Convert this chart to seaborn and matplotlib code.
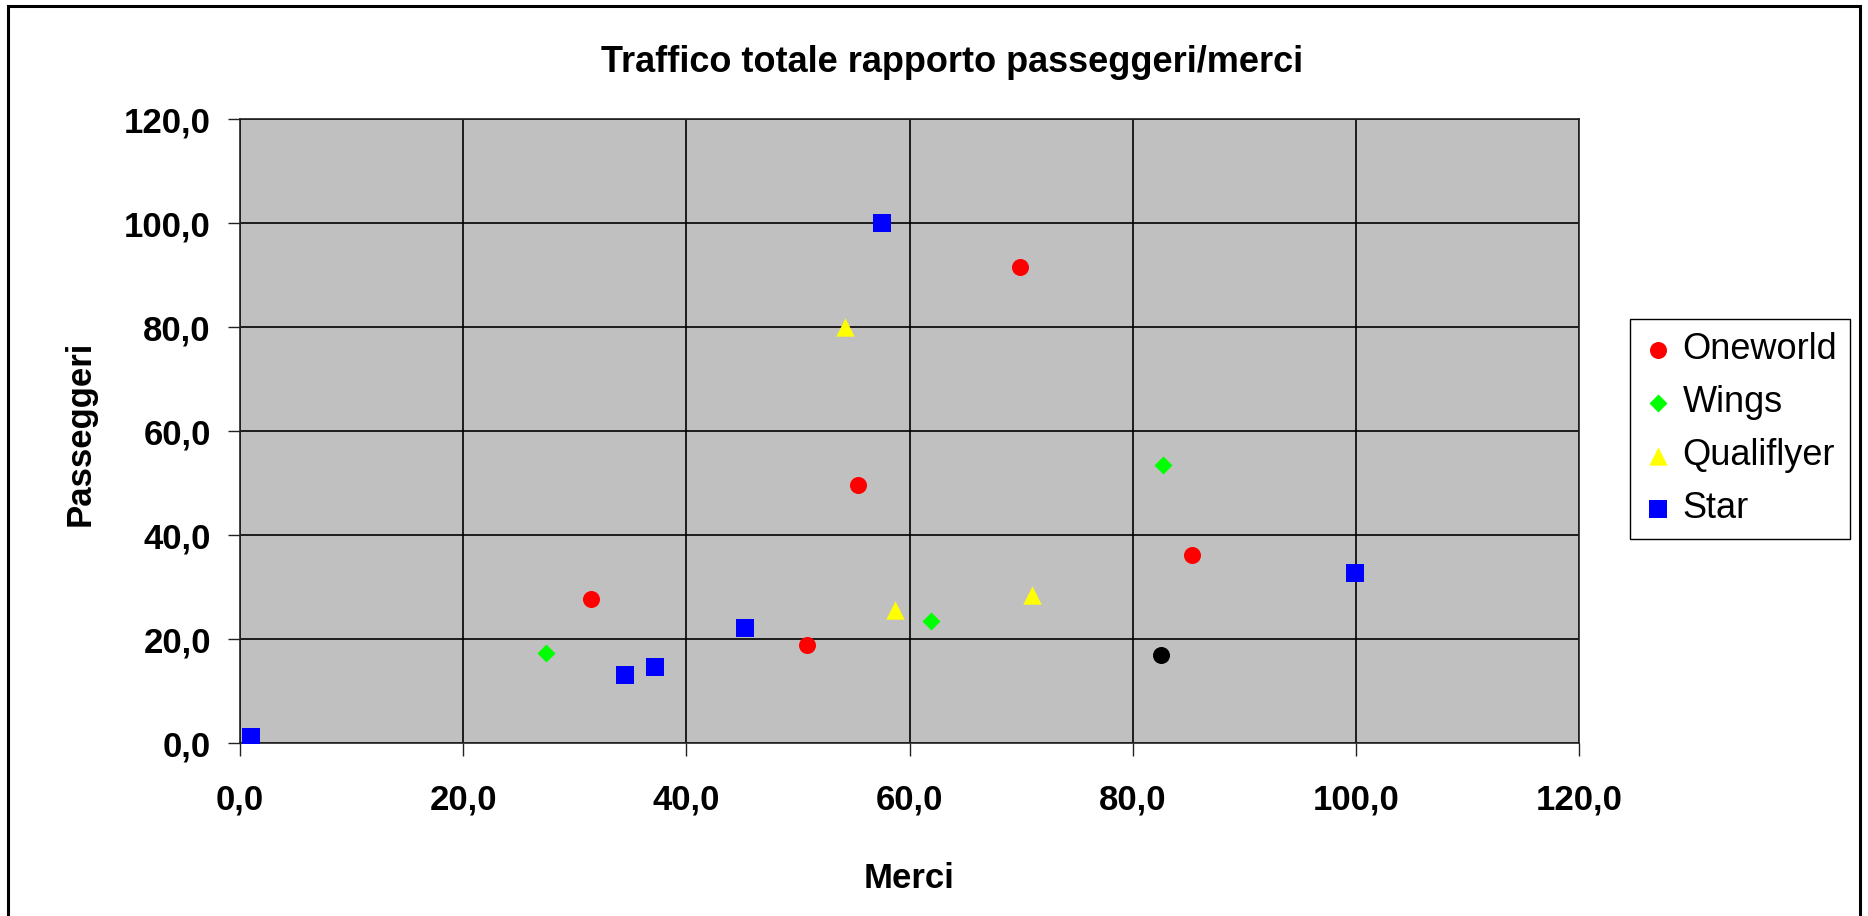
import matplotlib
matplotlib.use("Agg")
import matplotlib.pyplot as plt
import matplotlib.patches as patches
from matplotlib.ticker import FuncFormatter, MultipleLocator
import pandas as pd
import seaborn as sns

# valori (Merci, Passeggeri)
oneworld_x = [31.5, 50.8, 55.4, 69.9, 85.3]
oneworld_y = [27.7, 18.9, 49.7, 91.6, 36.2]
wings_x = [27.4, 61.9, 82.7]
wings_y = [17.3, 23.4, 53.4]
qualiflyer_x = [54.2, 58.7, 71.0]
qualiflyer_y = [80.0, 25.5, 28.5]
star_x = [1.0, 34.5, 37.2, 45.3, 57.5, 99.9]
star_y = [1.2, 13.0, 14.6, 22.2, 100.0, 32.7]
# punto nero senza voce in legenda
altro_x = [82.5]
altro_y = [17.0]

sns.set_style("white")
plt.rcParams['font.family'] = ['Liberation Sans', 'DejaVu Sans']
plt.rcParams['text.color'] = 'black'
plt.rcParams['xtick.color'] = 'black'
plt.rcParams['ytick.color'] = 'black'

fig = plt.figure(figsize=(18.68, 9.16), dpi=100)
ax = fig.add_axes([240 / 1868, 1 - 743 / 916, (1579 - 240) / 1868, (743 - 119) / 916])
ax.set_facecolor('#C0C0C0')

series = [
    ('Oneworld', oneworld_x, oneworld_y, '#FF0000', 'o', 150),
    ('Wings', wings_x, wings_y, '#00FF00', 'D', 84),
    ('Qualiflyer', qualiflyer_x, qualiflyer_y, '#FFFF00', '^', 175),
    ('Star', star_x, star_y, '#0000FF', 's', 170),
]
for name, xs, ys, col, mk, size in series:
    df = pd.DataFrame({'Merci': xs, 'Passeggeri': ys})
    sns.scatterplot(data=df, x='Merci', y='Passeggeri', color=col, marker=mk, s=size,
                    linewidth=0, label=name, ax=ax, zorder=3)

df_altro = pd.DataFrame({'Merci': altro_x, 'Passeggeri': altro_y})
sns.scatterplot(data=df_altro, x='Merci', y='Passeggeri', color='black', marker='o', s=150,
                linewidth=0, legend=False, ax=ax, zorder=3)

ax.set_xlim(0, 120)
ax.set_ylim(0, 120)
ax.xaxis.set_major_locator(MultipleLocator(20))
ax.yaxis.set_major_locator(MultipleLocator(20))
fmt = FuncFormatter(lambda v, p: f"{v:.1f}".replace('.', ','))
ax.xaxis.set_major_formatter(fmt)
ax.yaxis.set_major_formatter(fmt)
ax.grid(True, color='black', linewidth=1.2)
ax.set_axisbelow(True)
for s in ax.spines.values():
    s.set_color('#222222')
    s.set_linewidth(1.2)
ax.tick_params(axis='both', direction='out', length=9, width=1.0, color='#222222',
               labelsize=25, labelcolor='black', left=True, bottom=True)
ax.tick_params(axis='x', pad=20)
ax.tick_params(axis='y', pad=12)
for lab in ax.get_xticklabels() + ax.get_yticklabels():
    lab.set_fontweight('bold')

ax.set_xlabel('')
ax.set_ylabel('')
fig.text(909 / 1868, 1 - 878 / 916, 'Merci', ha='center', va='center',
         fontsize=25, fontweight='bold')
fig.text(80 / 1868, 1 - 433 / 916, 'Passeggeri', ha='center', va='center',
         rotation=90, fontsize=25, fontweight='bold')
fig.text(952 / 1868, 1 - 62 / 916, 'Traffico totale rapporto passeggeri/merci',
         ha='center', va='center', fontsize=26, fontweight='bold')

leg = ax.legend(loc='upper left', bbox_to_anchor=(1630 / 1868, 1 - 319 / 916),
                bbox_transform=fig.transFigure, fontsize=26, frameon=True,
                fancybox=False, shadow=False, edgecolor='black', facecolor='white',
                framealpha=1, handletextpad=0.25, labelspacing=0.5,
                borderpad=0.36, handlelength=0.85, borderaxespad=0)
leg.get_frame().set_linewidth(1.0)

# cornice esterna del grafico
fig.patches.append(patches.Rectangle((8 / 1868, -0.05), (1860 - 8) / 1868, 1.05 - 6 / 916,
                                     transform=fig.transFigure, fill=False,
                                     edgecolor='black', linewidth=2.2))

fig.savefig('out.png', dpi=100, facecolor='white')
